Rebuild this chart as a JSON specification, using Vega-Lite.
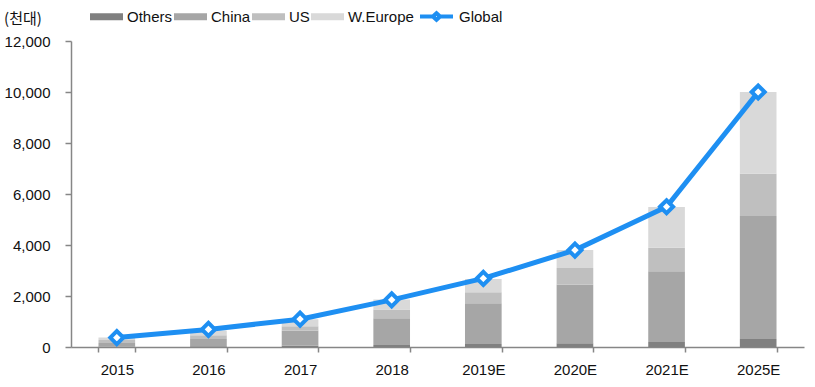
{
  "$schema": "https://vega.github.io/schema/vega-lite/v6.json",
  "width": 733,
  "height": 306,
  "autosize": {"type": "none"},
  "padding": {"left": 71, "top": 41, "right": 11, "bottom": 40},
  "background": "white",
  "config": {
    "view": {"stroke": null},
    "font": "Liberation Sans",
    "axis": {
      "labelFont": "Liberation Sans",
      "labelFontSize": 15,
      "labelColor": "#111111",
      "domainColor": "#868686",
      "tickColor": "#868686",
      "domainWidth": 1.5,
      "tickWidth": 1.5,
      "grid": false,
      "title": null
    },
    "legend": {"labelFont": "Liberation Sans", "labelFontSize": 15, "labelColor": "#111111"}
  },
  "title": {
    "text": "(천대)",
    "font": "Noto Sans CJK KR",
    "fontSize": 15,
    "fontWeight": "normal",
    "color": "#111111",
    "anchor": "start",
    "baseline": "middle",
    "dx": 0,
    "dy": 36,
    "offset": 0
  },
  "datasets": {
    "bars": [
      {"year": "2015", "region": "Others", "value": 20},
      {"year": "2015", "region": "China", "value": 140},
      {"year": "2015", "region": "US", "value": 110},
      {"year": "2015", "region": "W.Europe", "value": 100},
      {"year": "2016", "region": "Others", "value": 30},
      {"year": "2016", "region": "China", "value": 280},
      {"year": "2016", "region": "US", "value": 150},
      {"year": "2016", "region": "W.Europe", "value": 190},
      {"year": "2017", "region": "Others", "value": 50},
      {"year": "2017", "region": "China", "value": 590},
      {"year": "2017", "region": "US", "value": 170},
      {"year": "2017", "region": "W.Europe", "value": 280},
      {"year": "2018", "region": "Others", "value": 80},
      {"year": "2018", "region": "China", "value": 1050},
      {"year": "2018", "region": "US", "value": 340},
      {"year": "2018", "region": "W.Europe", "value": 390},
      {"year": "2019E", "region": "Others", "value": 120},
      {"year": "2019E", "region": "China", "value": 1600},
      {"year": "2019E", "region": "US", "value": 430},
      {"year": "2019E", "region": "W.Europe", "value": 520},
      {"year": "2020E", "region": "Others", "value": 150},
      {"year": "2020E", "region": "China", "value": 2290},
      {"year": "2020E", "region": "US", "value": 660},
      {"year": "2020E", "region": "W.Europe", "value": 700},
      {"year": "2021E", "region": "Others", "value": 200},
      {"year": "2021E", "region": "China", "value": 2770},
      {"year": "2021E", "region": "US", "value": 920},
      {"year": "2021E", "region": "W.Europe", "value": 1600},
      {"year": "2025E", "region": "Others", "value": 310},
      {"year": "2025E", "region": "China", "value": 4830},
      {"year": "2025E", "region": "US", "value": 1650},
      {"year": "2025E", "region": "W.Europe", "value": 3210}
    ],
    "global": [
      {"year": "2015", "series": "Global", "value": 370},
      {"year": "2016", "series": "Global", "value": 690},
      {"year": "2017", "series": "Global", "value": 1090},
      {"year": "2018", "series": "Global", "value": 1850},
      {"year": "2019E", "series": "Global", "value": 2690},
      {"year": "2020E", "series": "Global", "value": 3800},
      {"year": "2021E", "series": "Global", "value": 5500},
      {"year": "2025E", "series": "Global", "value": 10000}
    ]
  },
  "encoding": {
    "x": {
      "field": "year",
      "type": "nominal",
      "scale": {
        "domain": ["2015", "2016", "2017", "2018", "2019E", "2020E", "2021E", "2025E"],
        "paddingInner": 0.6,
        "paddingOuter": 0.3
      },
      "axis": {"labelAngle": 0, "tickBand": "extent", "tickSize": 5, "labelPadding": 10}
    }
  },
  "layer": [
    {
      "data": {"name": "bars"},
      "transform": [
        {"calculate": "indexof(['Others','China','US','W.Europe'], datum.region)", "as": "stackOrder"}
      ],
      "mark": {"type": "bar"},
      "encoding": {
        "y": {
          "field": "value",
          "type": "quantitative",
          "aggregate": "sum",
          "stack": "zero",
          "scale": {"domain": [0, 12000], "nice": false},
          "axis": {
            "values": [0, 2000, 4000, 6000, 8000, 10000, 12000],
            "format": ",d",
            "formatType": "number",
            "tickSize": 6,
            "labelPadding": 15
          }
        },
        "color": {
          "field": "region",
          "type": "nominal",
          "sort": ["Others", "China", "US", "W.Europe"],
          "scale": {
            "domain": ["Others", "China", "US", "W.Europe"],
            "range": ["#808080", "#a6a6a6", "#bfbfbf", "#d9d9d9"]
          },
          "legend": {
            "orient": "none",
            "legendX": 19,
            "legendY": -41,
            "direction": "horizontal",
            "title": null,
            "padding": 0,
            "symbolType": "M-1,-0.21L1,-0.21L1,0.21L-1,0.21Z",
            "symbolSize": 1089,
            "symbolStrokeWidth": 0,
            "symbolOpacity": 1,
            "labelOffset": 4,
            "columnPadding": 1
          }
        },
        "order": {"field": "stackOrder", "type": "quantitative", "sort": "ascending"}
      }
    },
    {
      "data": {"name": "global"},
      "mark": {"type": "line", "strokeWidth": 5},
      "encoding": {
        "y": {
          "field": "value",
          "type": "quantitative",
          "axis": {
            "values": [0, 2000, 4000, 6000, 8000, 10000, 12000],
            "format": ",d",
            "formatType": "number",
            "tickSize": 6,
            "labelPadding": 15
          }
        },
        "stroke": {
          "field": "series",
          "type": "nominal",
          "scale": {"domain": ["Global"], "range": ["#1e8ff2"]},
          "legend": {
            "orient": "none",
            "legendX": 347,
            "legendY": -43,
            "direction": "horizontal",
            "title": null,
            "padding": 0,
            "symbolType": "M-1,0L-0.22,0M0.22,0L1,0M0,-0.2L0.22,0L0,0.2L-0.22,0Z",
            "symbolSize": 1089,
            "symbolStrokeWidth": 4,
            "symbolFillColor": "white",
            "labelOffset": 4,
            "encode": {"symbols": {"update": {"fill": {"value": "white"}, "opacity": {"value": 1}}}}
          }
        }
      }
    },
    {
      "data": {"name": "global"},
      "mark": {"type": "point", "shape": "diamond", "filled": true, "fill": "white", "stroke": "#1e8ff2", "strokeWidth": 4, "size": 170, "opacity": 1},
      "encoding": {
        "y": {
          "field": "value",
          "type": "quantitative",
          "axis": {
            "values": [0, 2000, 4000, 6000, 8000, 10000, 12000],
            "format": ",d",
            "formatType": "number",
            "tickSize": 6,
            "labelPadding": 15
          }
        }
      }
    }
  ]
}
